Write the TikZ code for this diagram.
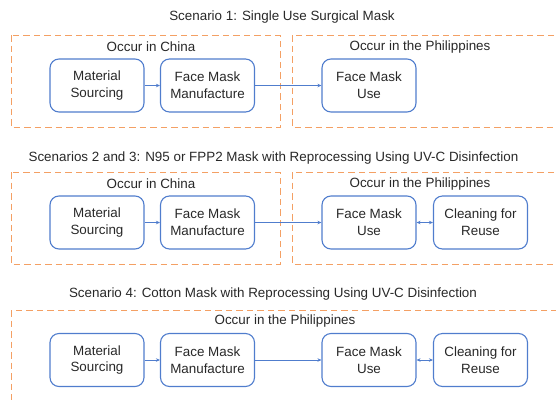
\documentclass[tikz,border=0pt]{standalone}
\usepackage{fontspec}
\setmainfont{Liberation Sans}
\usetikzlibrary{arrows.meta}
\definecolor{dashor}{RGB}{244,160,100}
\definecolor{boxblue}{RGB}{80,125,205}
\definecolor{txt}{RGB}{40,40,40}
\begin{document}
\begin{tikzpicture}[x=1pt,y=-1pt,
  stepbox/.style={draw=boxblue,line width=1.1pt,rounded corners=9pt,minimum width=94pt,minimum height=53pt,align=center,text=txt,font=\fontsize{13.4}{16.7}\selectfont,inner sep=0pt},
  region/.style={draw=dashor,line width=1pt,dash pattern=on 6.5pt off 4pt},
  lbl/.style={text=txt,font=\fontsize{13.4}{15}\selectfont,inner sep=0pt},
  flow/.style={draw=boxblue,line width=0.8pt,-{Stealth[length=4pt,width=3.5pt]}},
  both/.style={draw=boxblue,line width=0.8pt,{Stealth[length=4pt,width=3.5pt]}-{Stealth[length=4pt,width=3.5pt]}}]
\useasboundingbox (0,0) rectangle (556,399);
\clip (0,0) rectangle (556,399);
% Scenario 1
\node[lbl] (t1) at (282,17) {Scenario 1: Single Use Surgical Mask};
\draw[region] (11,35) rectangle (280,127);
\draw[region] (292,35) rectangle (562,127);
\node[lbl] (c1) at (151,47) {Occur in China};
\node[lbl] (p1) at (420,47) {Occur in the Philippines};
\node[stepbox] (a1) at (97,85.5) {Material\\Sourcing};
\node[stepbox] (b1) at (207.5,85.5) {Face Mask\\Manufacture};
\node[stepbox] (u1) at (369,85.5) {Face Mask\\Use};
\draw[flow] (a1) -- (b1);
\draw[flow] (b1) -- (u1);
% Scenarios 2 and 3
\node[lbl] (t2) at (273.5,158) {Scenarios 2 and 3: N95 or FPP2 Mask with Reprocessing Using UV-C Disinfection};
\draw[region] (11,172) rectangle (280,264);
\draw[region] (292,172) rectangle (562,264);
\node[lbl] (c2) at (151,184) {Occur in China};
\node[lbl] (p2) at (420,184) {Occur in the Philippines};
\node[stepbox] (a2) at (97,222.5) {Material\\Sourcing};
\node[stepbox] (b2) at (207.5,222.5) {Face Mask\\Manufacture};
\node[stepbox] (u2) at (369,222.5) {Face Mask\\Use};
\node[stepbox] (r2) at (480.5,222.5) {Cleaning for\\Reuse};
\draw[flow] (a2) -- (b2);
\draw[flow] (b2) -- (u2);
\draw[both] (u2) -- (r2);
% Scenario 4
\node[lbl] (t3) at (273,294) {Scenario 4: Cotton Mask with Reprocessing Using UV-C Disinfection};
\draw[region] (11,310) rectangle (562,405);
\node[lbl] (p3) at (285,321) {Occur in the Philippines};
\node[stepbox] (a3) at (97,360) {Material\\Sourcing};
\node[stepbox] (b3) at (207.5,360) {Face Mask\\Manufacture};
\node[stepbox] (u3) at (369,360) {Face Mask\\Use};
\node[stepbox] (r3) at (480.5,360) {Cleaning for\\Reuse};
\draw[flow] (a3) -- (b3);
\draw[flow] (b3) -- (u3);
\draw[both] (u3) -- (r3);
\end{tikzpicture}
\end{document}
